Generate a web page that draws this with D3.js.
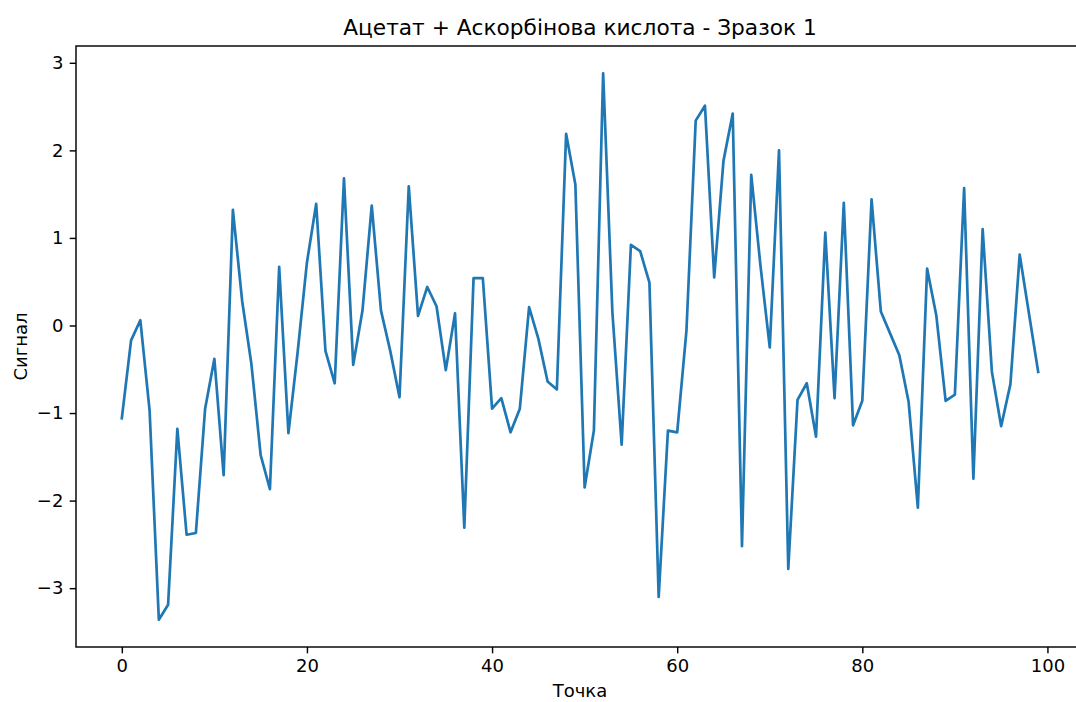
<!DOCTYPE html>
<html>
<head>
<meta charset="utf-8">
<script src="https://cdn.jsdelivr.net/npm/d3@7"></script>
<style>
  html, body { margin: 0; padding: 0; background: #fff; overflow: hidden; }
  svg { display: block; font-family: "DejaVu Sans", sans-serif; }
</style>
</head>
<body>
<svg id="chart" width="1076" height="702"></svg>
<script>
// Signal samples, one value per point index
const signal = [
  -1.06, -0.17, 0.06, -0.97, -3.36, -3.19, -1.18, -2.39, -2.37, -0.95,
  -0.38, -1.71, 1.32, 0.28, -0.44, -1.48, -1.87, 0.67, -1.23, -0.30,
  0.72, 1.39, -0.29, -0.66, 1.68, -0.45, 0.17, 1.37, 0.17, -0.29,
  -0.82, 1.59, 0.11, 0.44, 0.22, -0.51, 0.14, -2.31, 0.54, 0.54,
  -0.95, -0.83, -1.22, -0.95, 0.21, -0.15, -0.64, -0.73, 2.19, 1.61,
  -1.85, -1.20, 2.88, 0.15, -1.36, 0.92, 0.85, 0.49, -3.10, -1.20,
  -1.22, -0.06, 2.34, 2.51, 0.55, 1.88, 2.42, -2.52, 1.72, 0.68,
  -0.25, 2.00, -2.78, -0.85, -0.66, -1.27, 1.06, -0.83, 1.40, -1.14,
  -0.86, 1.44, 0.16, -0.09, -0.34, -0.87, -2.08, 0.65, 0.11, -0.86,
  -0.79, 1.57, -1.75, 1.10, -0.53, -1.15, -0.67, 0.81, 0.14, -0.53
];
const xTicks = [0, 20, 40, 60, 80, 100];
const yTicks = [-3, -2, -1, 0, 1, 2, 3];
const titleText = "Ацетат + Аскорбінова кислота - Зразок 1";
const xLabel = "Точка";
const yLabel = "Сигнал";

const svg = d3.select("#chart");
const plot = { left: 76, top: 46, width: 1008, height: 601 };

// 5% padding around the data extent on both axes
const n = signal.length;
const xPad = (n - 1) * 0.05;
const [yMin, yMax] = d3.extent(signal);
const yPad = (yMax - yMin) * 0.05;

const x = d3.scaleLinear()
  .domain([-xPad, n - 1 + xPad])
  .range([plot.left, plot.left + plot.width]);
const y = d3.scaleLinear()
  .domain([yMin - yPad, yMax + yPad])
  .range([plot.top + plot.height, plot.top]);

const fontSize = 18;

// Line
const line = d3.line()
  .x((d, i) => x(i))
  .y(d => y(d));

svg.append("path")
  .datum(signal)
  .attr("fill", "none")
  .attr("stroke", "#1f77b4")
  .attr("stroke-width", 2.7)
  .attr("stroke-linejoin", "round")
  .attr("stroke-linecap", "square")
  .attr("d", line);

// Axes
const fmt = d3.format("d");
const xAxis = d3.axisBottom(x).tickValues(xTicks).tickFormat(fmt)
  .tickSize(6.3).tickPadding(6.3).tickSizeOuter(0);
const yAxis = d3.axisLeft(y).tickValues(yTicks).tickFormat(d => d < 0 ? "\u2212" + Math.abs(d) : String(d))
  .tickSize(6.3).tickPadding(6.3).tickSizeOuter(0);

const gx = svg.append("g")
  .attr("transform", `translate(0,${plot.top + plot.height})`)
  .call(xAxis);
const gy = svg.append("g")
  .attr("transform", `translate(${plot.left},0)`)
  .call(yAxis);

[gx, gy].forEach(g => {
  g.select(".domain").remove();
  g.selectAll(".tick line").attr("stroke", "#000").attr("stroke-width", 1.44);
  g.selectAll(".tick text")
    .attr("fill", "#000")
    .style("font-family", "'DejaVu Sans', sans-serif")
    .style("font-size", fontSize + "px");
});

// Frame
svg.append("rect")
  .attr("x", plot.left)
  .attr("y", plot.top)
  .attr("width", plot.width)
  .attr("height", plot.height)
  .attr("fill", "none")
  .attr("stroke", "#000")
  .attr("stroke-width", 1.44);

// Title and axis labels
svg.append("text")
  .attr("x", plot.left + plot.width / 2)
  .attr("y", plot.top - 10.8)
  .attr("text-anchor", "middle")
  .style("font-size", "21.7px")
  .attr("fill", "#000")
  .text(titleText);

svg.append("text")
  .attr("x", plot.left + plot.width / 2)
  .attr("y", 697)
  .attr("text-anchor", "middle")
  .style("font-size", fontSize + "px")
  .attr("fill", "#000")
  .text(xLabel);

svg.append("text")
  .attr("transform", `translate(27,${plot.top + plot.height / 2}) rotate(-90)`)
  .attr("text-anchor", "middle")
  .style("font-size", fontSize + "px")
  .attr("fill", "#000")
  .text(yLabel);
</script>
</body>
</html>
